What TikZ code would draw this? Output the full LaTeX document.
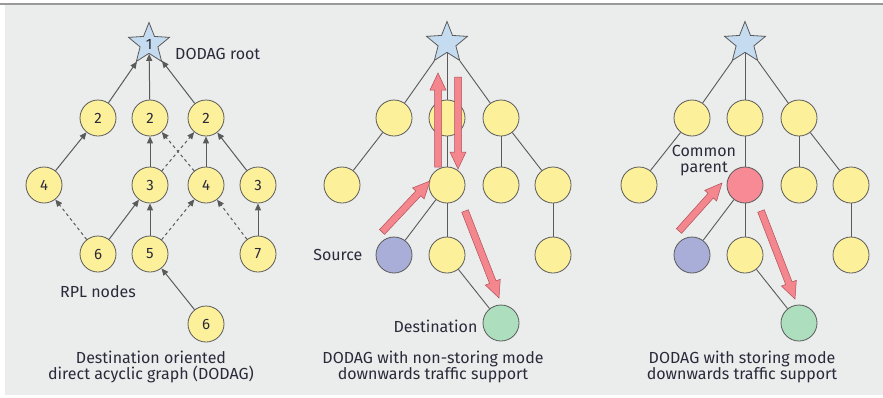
\documentclass[tikz,border=0pt]{standalone}
\usepackage{fontspec}
\setmainfont{Fira Sans}
\usepackage{tikz}
\usetikzlibrary{calc,positioning,shapes.geometric,arrows.meta}
\definecolor{panelgray}{HTML}{EBECEC}
\definecolor{nodeyellow}{HTML}{FDF09A}
\definecolor{rootblue}{HTML}{C5DCF0}
\definecolor{srcblue}{HTML}{A9AED9}
\definecolor{dstgreen}{HTML}{ADDFBF}
\definecolor{parentred}{HTML}{F78A95}
\definecolor{arrowred}{HTML}{F4868E}
\definecolor{arrowedge}{HTML}{B0505A}
\definecolor{edgegray}{HTML}{5A5A5A}
\definecolor{textnavy}{HTML}{2A2A3A}

\tikzset{
	rpl/.style={circle, draw=edgegray, line width=0.8pt, fill=nodeyellow, minimum size=36pt, inner sep=0pt, text=textnavy, font=\fontsize{15}{16}\selectfont},
	rootstar/.style={star, star points=5, star point ratio=2.3, draw=edgegray, line width=0.8pt, fill=rootblue, minimum size=43pt, inner sep=0pt, text=textnavy, font=\fontsize{15}{16}\selectfont},
	dagedge/.style={draw=edgegray, line width=1pt, -{Triangle[length=7pt,width=6pt]}},
	dagalt/.style={dagedge, dash pattern=on 3pt off 3pt},
	treeedge/.style={draw=edgegray, line width=0.9pt},
	traffic/.style={fill=arrowred, draw=arrowedge, line width=0.5pt, line join=miter},
	lbl/.style={text=textnavy, font=\fontsize{16}{16}\selectfont, align=center, inner sep=0pt}
}

% fat traffic arrow from #1 to #2
\newcommand{\trafficarrow}[2]{%
	\coordinate (hb) at ($(#2)!17pt!(#1)$);
	\draw[traffic] ($(#1)!3.5pt!90:(hb)$) -- ($(hb)!3.5pt!-90:(#1)$) -- ($(hb)!8pt!-90:(#1)$)
		-- (#2) -- ($(hb)!8pt!90:(#1)$) -- ($(hb)!3.5pt!90:(#1)$) -- ($(#1)!3.5pt!-90:(hb)$) -- cycle;
}

\begin{document}
\begin{tikzpicture}[x=1pt, y=-1pt]
	\useasboundingbox (0,0) rectangle (883,397);
	\fill[white] (0,0) rectangle (883,397);
	\fill[panelgray] (5,5) rectangle (883,395);
	\draw[gray!80, line width=1.5pt] (0,4) -- (883,4);
	
	%% left: the DODAG with ranks
	\node[rootstar] (root) at (149,44) {1};
	\node[lbl, anchor=west] (rootlbl) at (175,54) {DODAG root};
	\node[rpl] (r2a) at (98,118) {2};
	\node[rpl] (r2b) at (150,118) {2};
	\node[rpl] (r2c) at (206,118) {2};
	\node[rpl] (r3a) at (44,185) {4};
	\node[rpl] (r3b) at (150,185) {3};
	\node[rpl] (r3c) at (206,185) {4};
	\node[rpl] (r3d) at (258,185) {3};
	\node[rpl] (r4a) at (98,254) {6};
	\node[rpl] (r4b) at (150,254) {5};
	\node[rpl] (r4c) at (258,254) {7};
	\node[rpl] (r5) at (206,324) {6};
	\node[lbl] (rpllbl) at (98,292) {RPL nodes};
	
	\draw[dagedge] (r2a) -- (root);
	\draw[dagedge] (r2b) -- (root);
	\draw[dagedge] (r2c) -- (root);
	\draw[dagedge] (r3a) -- (r2a);
	\draw[dagedge] (r3b) -- (r2b);
	\draw[dagalt] (r3c) -- (r2b);
	\draw[dagalt] (r3b) -- (r2c);
	\draw[dagedge] (r3c) -- (r2c);
	\draw[dagedge] (r3d) -- (r2c);
	\draw[dagalt] (r4a) -- (r3a);
	\draw[dagedge] (r4a) -- (r3b);
	\draw[dagedge] (r4b) -- (r3b);
	\draw[dagalt] (r4b) -- (r3c);
	\draw[dagalt] (r4c) -- (r3c);
	\draw[dagedge] (r4c) -- (r3d);
	\draw[dagedge] (r5) -- (r4b);
	
	\node[lbl] (cap1) at (151,367) {Destination oriented\\direct acyclic graph (DODAG)};
	
	%% middle: non-storing mode
	\node[rootstar] (nsroot) at (447,43) {};
	\node[rpl] (ns2a) at (394,118) {};
	\node[rpl] (ns2b) at (447,118) {};
	\node[rpl] (ns2c) at (501,118) {};
	\node[rpl] (ns3a) at (342,185) {};
	\node[rpl] (ns3b) at (447,185) {};
	\node[rpl] (ns3c) at (501,185) {};
	\node[rpl] (ns3d) at (553,185) {};
	\node[rpl, fill=srcblue] (nssrc) at (394,255) {};
	\node[rpl] (ns4b) at (447,255) {};
	\node[rpl] (ns4c) at (553,255) {};
	\node[rpl, fill=dstgreen] (nsdst) at (501,323) {};
	
	\draw[treeedge] (nsroot) -- (ns2a);
	\draw[treeedge] (nsroot) -- (ns2b);
	\draw[treeedge] (nsroot) -- (ns2c);
	\draw[treeedge] (ns2a) -- (ns3a);
	\draw[treeedge] (ns2b) -- (ns3b);
	\draw[treeedge] (ns2c) -- (ns3c);
	\draw[treeedge] (ns2c) -- (ns3d);
	\draw[treeedge] (ns3b) -- (nssrc);
	\draw[treeedge] (ns3b) -- (ns4b);
	\draw[treeedge] (ns3d) -- (ns4c);
	\draw[treeedge] (ns4b) -- (nsdst);
	
	\node[lbl, left=13pt of nssrc] (srclbl) {Source};
	\node[lbl, left=5pt of nsdst, yshift=-3pt] (dstlbl) {Destination};
	
	\coordinate (nsA) at (382,232); \coordinate (nsB) at (430,181);
	\coordinate (nsC) at (438,167); \coordinate (nsD) at (438,73);
	\coordinate (nsE) at (458,77); \coordinate (nsF) at (458,169);
	\coordinate (nsG) at (465,211); \coordinate (nsH) at (499,298);
	\trafficarrow{nsA}{nsB}
	\trafficarrow{nsC}{nsD}
	\trafficarrow{nsE}{nsF}
	\trafficarrow{nsG}{nsH}
	
	\node[lbl] (cap2) at (433,367) {DODAG with non-storing mode\\downwards traffic support};
	
	%% right: storing mode
	\node[rootstar] (stroot) at (745,43) {};
	\node[rpl] (st2a) at (692,118) {};
	\node[rpl] (st2b) at (745,118) {};
	\node[rpl] (st2c) at (799,118) {};
	\node[rpl] (st3a) at (639,185) {};
	\node[rpl, fill=parentred] (st3b) at (745,185) {};
	\node[rpl] (st3c) at (799,185) {};
	\node[rpl] (st3d) at (851,185) {};
	\node[rpl, fill=srcblue] (stsrc) at (692,255) {};
	\node[rpl] (st4b) at (745,255) {};
	\node[rpl] (st4c) at (851,255) {};
	\node[rpl, fill=dstgreen] (stdst) at (799,323) {};
	
	\draw[treeedge] (stroot) -- (st2a);
	\draw[treeedge] (stroot) -- (st2b);
	\draw[treeedge] (stroot) -- (st2c);
	\draw[treeedge] (st2a) -- (st3a);
	\draw[treeedge] (st2b) -- (st3b);
	\draw[treeedge] (st2c) -- (st3c);
	\draw[treeedge] (st2c) -- (st3d);
	\draw[treeedge] (st3b) -- (stsrc);
	\draw[treeedge] (st3b) -- (st4b);
	\draw[treeedge] (st3d) -- (st4c);
	\draw[treeedge] (st4b) -- (stdst);
	
	\node[lbl] (parentlbl) at (704,161) {Common\\parent};
	
	\coordinate (stA) at (679,231); \coordinate (stB) at (722,183);
	\coordinate (stG) at (761,211); \coordinate (stH) at (795,299);
	\trafficarrow{stA}{stB}
	\trafficarrow{stG}{stH}
	
	\node[lbl] (cap3) at (742,367) {DODAG with storing mode\\downwards traffic support};
\end{tikzpicture}
\end{document}
